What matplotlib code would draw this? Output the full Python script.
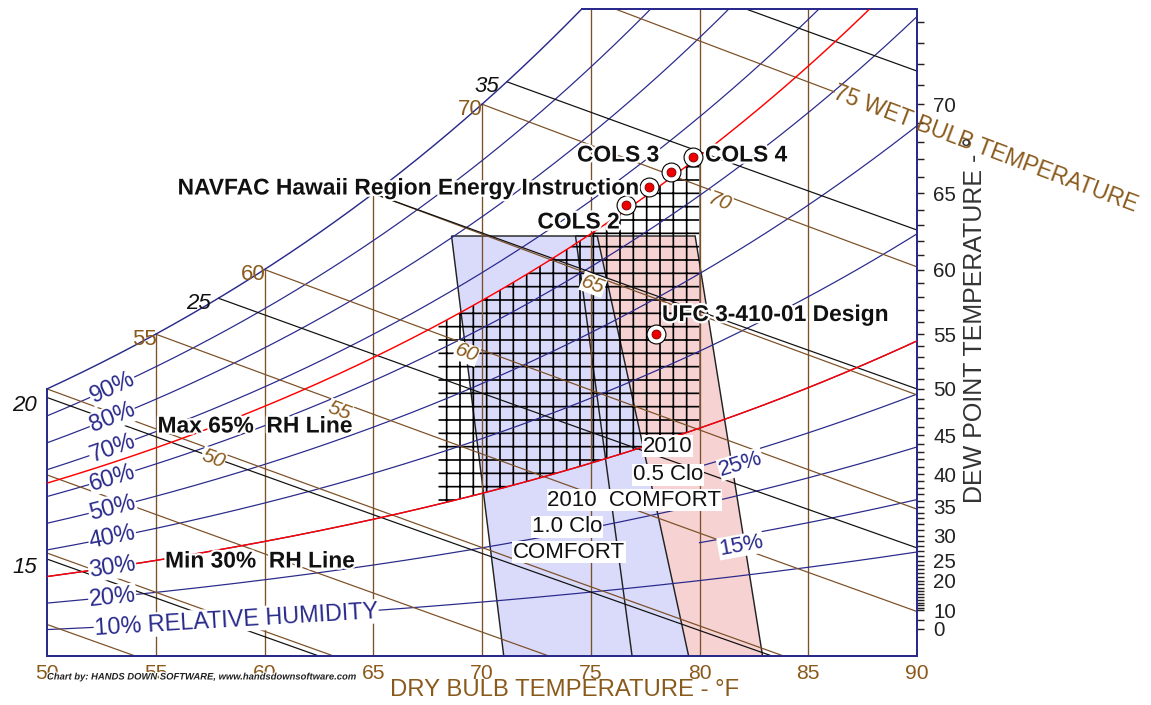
import numpy as np
import matplotlib
matplotlib.use('Agg')
import matplotlib.pyplot as plt
from matplotlib.patches import Polygon
import matplotlib.patheffects as pe

# ---- chart values ----
db_ticks = [50, 55, 60, 65, 70, 75, 80, 85, 90]
db_lines = [55, 60, 65, 70, 75, 80, 85]
rh_lines = [10, 20, 30, 40, 50, 60, 70, 80, 90]
rh_right = [15, 25]            # short RH lines on the warm side
rh_limits = [30, 65]           # red min / max RH lines
wb_lines = [35, 40, 45, 50, 55, 60, 65, 70, 75]
wb_sat_labels = [55, 60, 70]
wb_mid_labels = [50, 55, 60, 65, 70]
h_lines = [15, 20, 25, 30, 35, 40]
h_sat_labels = [25, 35]
h_edge_labels = [15, 20]
dp_labels = [0, 10, 20, 25, 30, 35, 40, 45, 50, 55, 60, 65, 70]
dp_minor = [5] + list(range(10, 75))

# ASHRAE 55-2010 comfort zones, dry bulb at the top (84 gr) and at 0 gr
zone_w = 84
clo10_top = [68.6, 75.3]
clo10_bot = [71.0, 79.5]
clo05_top = [74.3, 79.8]
clo05_bot = [76.9, 82.9]
box_db = [68, 80]              # hatched 68-80 F / 30-65 % RH area

pt_names = ['COLS 2', 'NAVFAC Hawaii Region Energy Instruction', 'COLS 3',
            'COLS 4', 'UFC 3-410-01 Design']
pt_db = [76.6, 77.7, 78.7, 79.7, 78.0]
pt_w = [90.2, 93.8, 96.8, 99.8, 64.5]   # grains / lb

P = 14.696
W_TOP = 129.4

plt.rcParams['font.family'] = ['Liberation Sans', 'DejaVu Sans']
plt.rcParams['hatch.linewidth'] = 1.5
plt.rcParams['hatch.color'] = 'black'

navy = '#2a2a8c'
brown = '#7d5128'
tbrown = '#8a5a1c'


def pws(t):
    T = np.asarray(t, dtype=float) + 459.67
    ice = np.exp(-1.0214165e4 / T - 4.8932428 - 5.3765794e-3 * T + 1.9202377e-7 * T**2
                 + 3.5575832e-10 * T**3 - 9.0344688e-14 * T**4 + 4.1635019 * np.log(T))
    wat = np.exp(-1.0440397e4 / T - 1.1294650e1 - 2.7022355e-2 * T + 1.2890360e-5 * T**2
                 - 2.4780681e-9 * T**3 + 6.5459673 * np.log(T))
    return np.where(T < 491.67, ice, wat)


def w_rh(t, rh):
    pw = rh * pws(t)
    return 7000 * 0.622 * pw / (P - pw)


def w_wb(t, twb):
    ws = w_rh(twb, 1.0) / 7000
    return 7000 * ((1093 - 0.556 * twb) * ws - 0.240 * (t - twb)) / (1093 + 0.444 * t - twb)


def w_h(t, h):
    return 7000 * (h - 0.240 * t) / (1061 + 0.444 * t)


tt = np.linspace(0, 100, 20001)
ws_tt = w_rh(tt, 1.0)
hs_tt = 0.240 * tt + ws_tt / 7000 * (1061 + 0.444 * tt)


def t_sat_w(w):
    return float(np.interp(w, ws_tt, tt))


def t_sat_h(h):
    return float(np.interp(h, hs_tt, tt))


fig = plt.figure(figsize=(1151 / 80, 705 / 80), dpi=80)
ax = fig.add_axes([47 / 1151, 49 / 705, 870 / 1151, 647 / 705])
ax.set_xlim(50, 90)
ax.set_ylim(0, W_TOP)


def angle(f, t, dt=0.3):
    a = ax.transData.transform((t - dt, float(f(t - dt))))
    b = ax.transData.transform((t + dt, float(f(t + dt))))
    return np.degrees(np.arctan2(b[1] - a[1], b[0] - a[0]))


white_box = dict(facecolor='white', edgecolor='none', pad=0.6)
halo = [pe.withStroke(linewidth=4, foreground='white')]

# frame + saturation curve
t_top = t_sat_w(W_TOP)
ts = np.linspace(50, t_top, 300)
ax.plot(ts, w_rh(ts, 1.0), color=navy, lw=1.3, zorder=3)
ax.plot([t_top, 90], [W_TOP, W_TOP], color=navy, lw=1.8, clip_on=False, zorder=3)
ax.plot([50, 50], [0, float(w_rh(50, 1.0))], color=navy, lw=1.8, clip_on=False, zorder=3)

# dry bulb lines
for t in db_lines:
    ax.plot([t, t], [0, min(float(w_rh(t, 1.0)), W_TOP)], color=brown, lw=1.2, zorder=2)

# relative humidity lines
tr = np.linspace(50, 90, 300)
for rh in rh_lines:
    ax.plot(tr, w_rh(tr, rh / 100), color=navy, lw=1.1, zorder=2)
tr2 = np.linspace(80, 90, 100)
for rh in rh_right:
    ax.plot(tr2, w_rh(tr2, rh / 100), color=navy, lw=1.1, zorder=2)

# wet bulb lines
wb_label_t = 86.2
for twb in wb_lines:
    ws = float(w_rh(twb, 1.0)) / 7000
    t0 = max(twb, 50)
    t1 = min(90, twb + (1093 - 0.556 * twb) * ws / 0.24)
    if twb == wb_lines[-1]:
        t1 = wb_label_t
    t = np.linspace(t0, t1, 200)
    ax.plot(t, w_wb(t, twb), color=brown, lw=1.1, zorder=2)

# enthalpy lines
for h in h_lines:
    t0 = max(50, t_sat_h(h))
    t1 = min(90, h / 0.24)
    t = np.linspace(t0, t1, 200)
    ax.plot(t, w_h(t, h), color='#111111', lw=1.1, zorder=2)

# comfort zones
blue_pts = [(clo10_top[0], zone_w), (clo10_top[1], zone_w), (clo10_bot[1], 0), (clo10_bot[0], 0)]
pink_pts = [(clo05_top[0], zone_w), (clo05_top[1], zone_w), (clo05_bot[1], 0), (clo05_bot[0], 0)]
ax.add_patch(Polygon(pink_pts, closed=True, facecolor='#f7d2d2', edgecolor='none', zorder=0.8))
ax.add_patch(Polygon(blue_pts, closed=True, facecolor='#dadafb', edgecolor='none', zorder=0.9))
for pts in (pink_pts, blue_pts):
    ax.add_patch(Polygon(pts, closed=True, fill=False, edgecolor='#222222', lw=1.3, zorder=1.7))

# hatched 30-65 % RH box
tb = np.linspace(box_db[0], box_db[1], 100)
lo = np.column_stack([tb, w_rh(tb, rh_limits[0] / 100)])
hi = np.column_stack([tb[::-1], w_rh(tb[::-1], rh_limits[1] / 100)])
ax.add_patch(Polygon(np.vstack([lo, hi]), closed=True, facecolor='none', edgecolor='black',
                     hatch='+', lw=0, zorder=1.8))

# red min / max lines
for rh in rh_limits:
    ax.plot(tr, w_rh(tr, rh / 100), color='#ff0000', lw=1.3, zorder=4)

# RH labels
for rh in rh_lines[1:]:
    f = lambda x, r=rh: w_rh(x, r / 100)
    ax.text(53.0, float(f(53.0)), f'{rh}%', rotation=angle(f, 53.0), ha='center', va='center',
            rotation_mode='anchor', color=navy, fontsize=21, bbox=white_box, zorder=5)
f10 = lambda x: w_rh(x, 0.10)
ax.text(58.7, float(f10(58.7)), '10% RELATIVE HUMIDITY', rotation=angle(f10, 58.7),
        rotation_mode='anchor', ha='center', va='center', color=navy, fontsize=21,
        bbox=white_box, zorder=5)
for rh in rh_right:
    f = lambda x, r=rh: w_rh(x, r / 100)
    ax.text(81.9, float(f(81.9)) - 2, f'{rh}%', rotation=angle(f, 81.9), ha='center',
            va='center', rotation_mode='anchor', color=navy, fontsize=20, bbox=white_box, zorder=5)

# wet bulb labels at saturation
for twb in wb_sat_labels:
    ax.annotate(str(twb), (twb, float(w_rh(twb, 1.0))), xytext=(1, -5),
                textcoords='offset pixels', ha='right', va='center', color=tbrown,
                fontsize=20, zorder=5, annotation_clip=False)
# wet bulb labels inside the chart (along about 58 % RH), sitting just under the line
for twb in wb_mid_labels:
    tm = np.linspace(twb, 90, 4000)
    tx = float(tm[np.argmin(np.abs(w_wb(tm, twb) - w_rh(tm, 0.585)))])
    f = lambda x, b=twb: w_wb(x, b)
    ax.annotate(str(twb), (tx, float(f(tx))), xytext=(0, -9), textcoords='offset pixels',
                rotation=angle(f, tx), ha='center', va='center', rotation_mode='anchor',
                color=tbrown, fontsize=19, style='italic',
                bbox=dict(facecolor='white', edgecolor='none', pad=0.3), zorder=5)
f75 = lambda x: w_wb(x, wb_lines[-1])
ax.text(wb_label_t, float(f75(wb_label_t)), '75 WET BULB TEMPERATURE',
        rotation=angle(f75, wb_label_t), rotation_mode='anchor', ha='left', va='center',
        color=tbrown, fontsize=20.5, clip_on=False, zorder=5)

# enthalpy labels
for h in h_sat_labels:
    ts_h = t_sat_h(h)
    ax.annotate(str(h), (ts_h, float(w_h(ts_h, h))), xytext=(-8, -5), textcoords='offset pixels',
                ha='right', va='center', style='italic', color='#111111', fontsize=20,
                zorder=5, annotation_clip=False)
for h in h_edge_labels:
    ax.annotate(str(h), (50, float(w_h(50, h))), xytext=(-10, -8), textcoords='offset pixels',
                ha='right', va='center', style='italic', color='#111111', fontsize=20,
                zorder=5, annotation_clip=False)

# comfort zone captions
cap = dict(ha='center', va='center', color='#111111', fontsize=20, bbox=white_box, zorder=5)
ax.text(78.55, 42.0, '2010', **cap)
ax.text(78.55, 36.2, '0.5 Clo', **cap)
ax.text(77.0, 31.2, '2010  COMFORT', **cap)
ax.text(73.9, 25.8, '1.0 Clo', **cap)
ax.text(74.0, 20.8, 'COMFORT', **cap)

bold = dict(fontsize=20.5, fontweight='bold', color='#111111', path_effects=halo, zorder=9)
ax.text(59.56, 46.0, 'Max 65%  RH Line', ha='center', va='center', **bold)
ax.text(59.79, 19.0, 'Min 30%  RH Line', ha='center', va='center', **bold)

# design points
ax.plot(pt_db, pt_w, 'o', ms=17, mfc='white', mec='black', mew=1.0, zorder=7)
ax.plot(pt_db, pt_w, 'o', ms=8, mfc='#ee0000', mec='#800000', mew=0.8, zorder=8)
pt_offsets = [(-6, -17, 'right'), (-12, -1, 'right'), (-12, 17, 'right'), (12, 2, 'left'), (6, 19, 'left')]
for name, x, y, (dx, dy, ha) in zip(pt_names, pt_db, pt_w, pt_offsets):
    ax.annotate(name, (x, y), xytext=(dx, dy), textcoords='offset pixels', ha=ha, va='center', **bold)

# axes
for s in ('top', 'left'):
    ax.spines[s].set_visible(False)
for s in ('right', 'bottom'):
    ax.spines[s].set_color(navy)
    ax.spines[s].set_linewidth(1.8)
ax.set_xticks(db_ticks)
ax.set_xticklabels([str(v) for v in db_ticks])
ax.tick_params(axis='x', length=0, pad=7, labelsize=19, labelcolor=tbrown)

ax.yaxis.tick_right()
ax.set_yticks([float(w_rh(d, 1.0)) for d in dp_labels])
ax.set_yticklabels([str(d) for d in dp_labels])
ax.set_yticks([float(w_rh(d, 1.0)) for d in dp_minor], minor=True)
ax.tick_params(axis='y', which='both', direction='out', length=6.5, width=1.3, color='#222222',
               pad=8, labelsize=18.5, labelcolor='#222222')

fig.text(565 / 1151, 1 - 690 / 705, 'DRY BULB TEMPERATURE - °F', ha='center', va='center',
         color=tbrown, fontsize=21.5)
fig.text(975 / 1151, 1 - 320 / 705, 'DEW POINT TEMPERATURE - °', ha='center', va='center',
         rotation=90, color='#333333', fontsize=22.5)
fig.text(47 / 1151, 1 - 677 / 705, 'Chart by: HANDS DOWN SOFTWARE, www.handsdownsoftware.com',
         ha='left', va='center', fontsize=8.5, fontweight='bold', style='italic', color='#222222',
         path_effects=[pe.withStroke(linewidth=2, foreground='white')], zorder=10)

fig.savefig('out.png', dpi=80)
